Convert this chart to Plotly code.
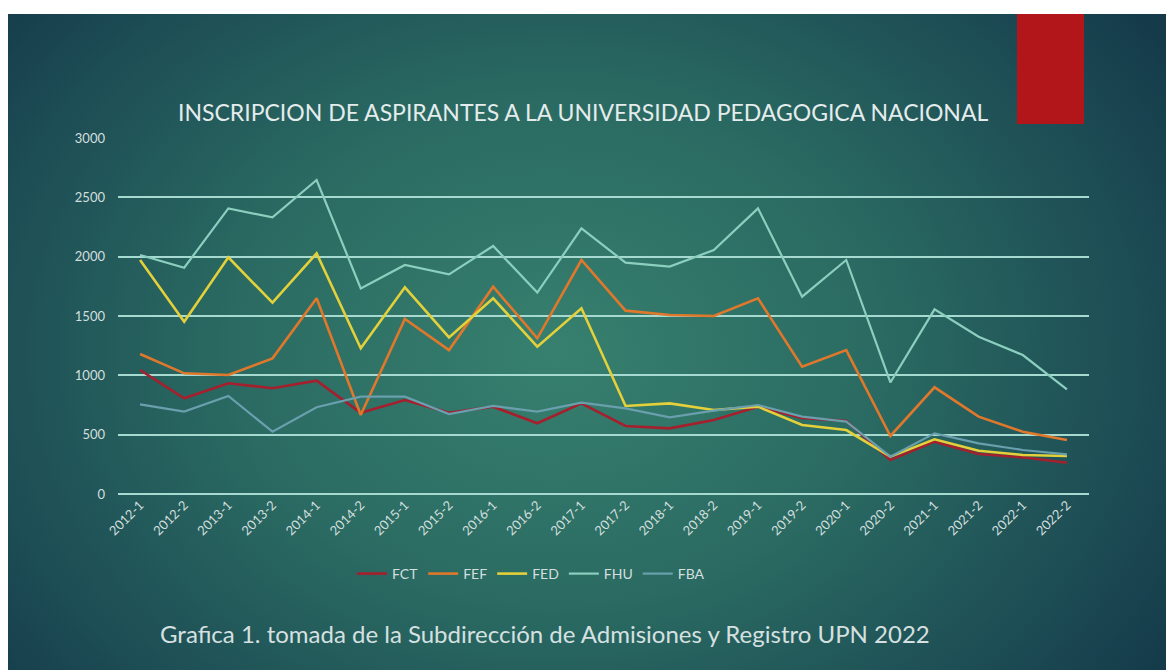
import base64
import plotly.graph_objects as go

W, H = 1174, 670
OFF = 8  # page body margin offset of the figure inside the window
# plot area in window coordinates: x 118..1089, y 138..494
L, T = 118 - OFF, 138 - OFF
R = W - (1089 - OFF)
B = H - (494 - OFF)
PW, PH = W - L - R, H - T - B

periods = ["2012-1", "2012-2", "2013-1", "2013-2", "2014-1", "2014-2", "2015-1", "2015-2",
           "2016-1", "2016-2", "2017-1", "2017-2", "2018-1", "2018-2", "2019-1", "2019-2",
           "2020-1", "2020-2", "2021-1", "2021-2", "2022-1", "2022-2"]

fct = [1045, 806, 933, 891, 955, 685, 792, 685, 736, 596, 764, 573, 553, 624, 735, 640,
       615, 287, 441, 337, 309, 264]
fef = [1180, 1017, 1003, 1143, 1649, 666, 1475, 1213, 1747, 1312, 1972, 1545, 1508, 1500,
       1649, 1073, 1213, 489, 899, 652, 525, 455]
fed = [1972, 1452, 1994, 1612, 2028, 1228, 1742, 1320, 1649, 1241, 1565, 742, 764, 708,
       736, 581, 539, 315, 461, 365, 329, 320]
fhu = [2014, 1907, 2407, 2331, 2646, 1733, 1930, 1851, 2090, 1697, 2239, 1949, 1916, 2056,
       2407, 1663, 1972, 940, 1556, 1326, 1171, 882]
fba = [756, 694, 826, 525, 731, 820, 820, 674, 742, 694, 770, 722, 646, 702, 750, 652,
       610, 315, 511, 427, 371, 334]

series_names = ["FCT", "FEF", "FED", "FHU", "FBA"]
series_values = [fct, fef, fed, fhu, fba]
series_colors = ["#a51f2d", "#e0782c", "#e3d03a", "#8ccfbf", "#6a9fae"]
series_widths = [2.6, 2.6, 2.6, 2.2, 2.2]

y_ticks = [0, 500, 1000, 1500, 2000, 2500, 3000]

title_text = "INSCRIPCION DE ASPIRANTES A LA UNIVERSIDAD PEDAGOGICA NACIONAL"
caption_text = "Grafica 1. tomada de la Subdirección de Admisiones y Registro UPN 2022"

FONT = "Lato, sans-serif"


def px_x(sx):
    return (sx - OFF - L) / PW


def px_y(sy):
    return (H - B - (sy - OFF)) / PH


# background: radial gradient slide
svg = '''<svg xmlns="http://www.w3.org/2000/svg" width="1166" height="656" viewBox="0 0 1166 656" preserveAspectRatio="none">
<defs>
<radialGradient id="g" cx="0.47" cy="0.50" r="0.62" fx="0.47" fy="0.50" gradientTransform="translate(0.47,0.5) scale(1,1.35) translate(-0.47,-0.5)">
<stop offset="0" stop-color="#37806f"/>
<stop offset="0.45" stop-color="#2a6a62"/>
<stop offset="0.8" stop-color="#1d4d55"/>
<stop offset="1" stop-color="#153b4a"/>
</radialGradient>
</defs>
<rect x="0" y="0" width="1166" height="656" fill="url(#g)"/>
</svg>'''
src = "data:image/svg+xml;base64," + base64.b64encode(svg.encode()).decode()

fig = go.Figure()
for name, vals, col, wd in zip(series_names, series_values, series_colors, series_widths):
    fig.add_trace(go.Scatter(x=periods, y=vals, name=name, mode="lines",
                             line=dict(color=col, width=wd)))

fig.update_layout(
    width=W, height=H,
    margin=dict(l=L, r=R, t=T, b=B),
    paper_bgcolor="white",
    plot_bgcolor="rgba(0,0,0,0)",
    showlegend=True,
    legend=dict(orientation="h", x=px_x(531), xanchor="center", y=px_y(574), yanchor="middle",
                font=dict(family=FONT, size=14, color="#d3dfdf"),
                bgcolor="rgba(0,0,0,0)", itemwidth=30, tracegroupgap=0),
    images=[dict(source=src, xref="paper", yref="paper", x=px_x(8), y=px_y(14),
                 sizex=(W - 8) / PW, sizey=(H - 14 + 20) / PH, xanchor="left", yanchor="top",
                 sizing="stretch", layer="below")],
    shapes=[dict(type="rect", xref="paper", yref="paper", x0=px_x(1017), x1=px_x(1084),
                 y0=px_y(124), y1=px_y(14), fillcolor="#b3161a", line=dict(width=0),
                 layer="above")],
    annotations=[
        dict(text=title_text, xref="paper", yref="paper", x=px_x(583), y=px_y(112),
             xanchor="center", yanchor="middle", showarrow=False,
             font=dict(family=FONT, size=23, color="#e4ecec")),
        dict(text=caption_text, xref="paper", yref="paper", x=px_x(545), y=px_y(633),
             xanchor="center", yanchor="middle", showarrow=False,
             font=dict(family=FONT, size=24, color="#d6e0e0")),
    ],
    xaxis=dict(type="category", showgrid=False, zeroline=False, showline=False,
               tickangle=-45, ticks="", tickfont=dict(family=FONT, size=13, color="#d3dfdf"),
               range=[-0.5, len(periods) - 0.5]),
    yaxis=dict(range=[0, 3000], tickvals=y_ticks, showgrid=True, gridcolor="#a6dad0",
               gridwidth=1.5, zeroline=True, zerolinecolor="#a6dad0", zerolinewidth=1.5,
               showline=False, ticks="", ticklabelstandoff=12,
               tickfont=dict(family=FONT, size=13, color="#d3dfdf")),
)

fig.write_html("out.html")
